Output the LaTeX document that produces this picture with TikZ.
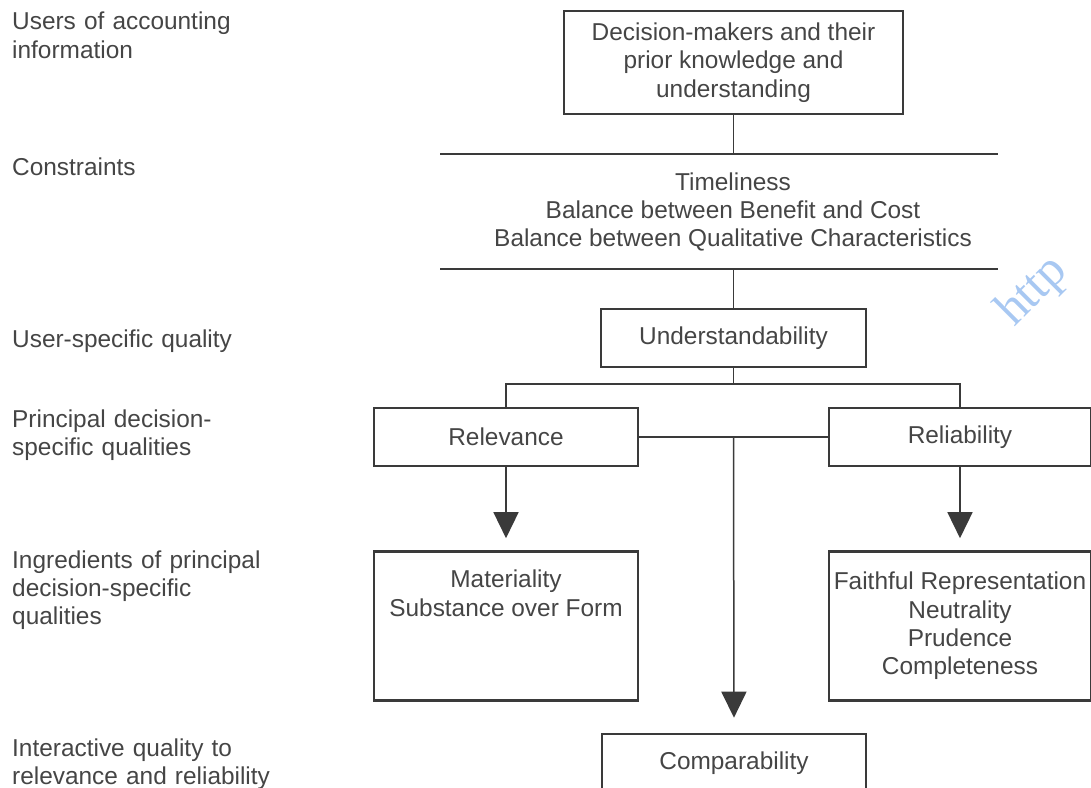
\documentclass[tikz,border=0pt]{standalone}
\usepackage{fontspec}
\setmainfont{Liberation Sans}
\newfontfamily\wmfont{Liberation Serif}
\usetikzlibrary{arrows.meta}
\definecolor{ink}{HTML}{3A3A3A}
\definecolor{txt}{HTML}{454545}
\definecolor{wm}{HTML}{A8C8F2}
\begin{document}
\begin{tikzpicture}[x=1bp,y=-1bp,
  every node/.style={font=\fontsize{24.5}{28.5}\selectfont, text=txt},
  box/.style={draw=ink, line width=2.6bp, inner sep=0pt, align=center},
  conn/.style={draw=ink, line width=1.5bp},
  bar/.style={draw=ink, line width=2.8bp},
  arr/.style={conn, -{Triangle[width=25bp,length=26bp]}},
  lab/.style={anchor=base west, align=left, inner sep=0pt, text width=330bp}
]
\useasboundingbox (0,0) rectangle (1091,788);

% watermark
\node[anchor=base west, rotate=45, text=wm, font=\wmfont\fontsize{50}{50}\selectfont, inner sep=0pt] (wmk) at (1014,328) {http};

% left labels
\node[lab] (l1) at (12,30) {Users of accounting\\information};
\node[lab] (l2) at (12,175) {Constraints};
\node[lab] (l3) at (12,347) {User-specific quality};
\node[lab] (l4) at (12,427) {Principal decision-\\specific qualities};
\node[lab] (l5) at (12,568) {Ingredients of principal\\decision-specific\\qualities};
\node[lab] (l6) at (12,756) {Interactive quality to\\relevance and reliability};

% boxes
\node[box, minimum width=339bp, minimum height=103bp] (dm) at (733.5,62.5)
  {Decision-makers and their\\prior knowledge and\\understanding};
\node[align=center, inner sep=0pt] (cons) at (733,212)
  {Timeliness\\Balance between Benefit and Cost\\Balance between Qualitative Characteristics};
\node[box, minimum width=265bp, minimum height=58bp] (und) at (733.5,338) {Understandability};
\node[box, minimum width=264bp, minimum height=58bp] (rel) at (506,437) {Relevance};
\node[box, minimum width=262bp, minimum height=58bp] (rb) at (960,437) {Reliability};
\node[box, minimum width=264bp, minimum height=149bp] (mat) at (506,626)
  {Materiality\\Substance over Form\\\strut\\\strut};
\node[box, minimum width=262bp, minimum height=149bp] (fr) at (960,626)
  {Faithful Representation\\Neutrality\\Prudence\\Completeness};
\node[box, minimum width=264bp, minimum height=58bp] (comp) at (734,763) {Comparability};

% constraint bars
\coordinate (b1l) at (440,154); \coordinate (b1r) at (998,154);
\coordinate (b2l) at (440,269); \coordinate (b2r) at (998,269);
\draw[bar] (b1l) -- (b1r);
\draw[bar] (b2l) -- (b2r);

% connectors
\draw[conn] (dm.south) -- (dm.south |- b1l);
\draw[conn] (b2l -| und.north) -- (und.north);
\coordinate (br) at (733.5,384);
\draw[conn] (und.south) -- (br);
\draw[conn] (rel.north) |- (br) -| (rb.north);
\draw[conn] (rel.east) -- (rb.west);
\coordinate (mid) at (733.5,437);
\draw[arr, shorten >=12bp] (rel) -- (mat);
\draw[arr, shorten >=12bp] (rb) -- (fr);
\draw[arr, shorten >=15bp] (mid) -- (comp.north);
\end{tikzpicture}
\end{document}
